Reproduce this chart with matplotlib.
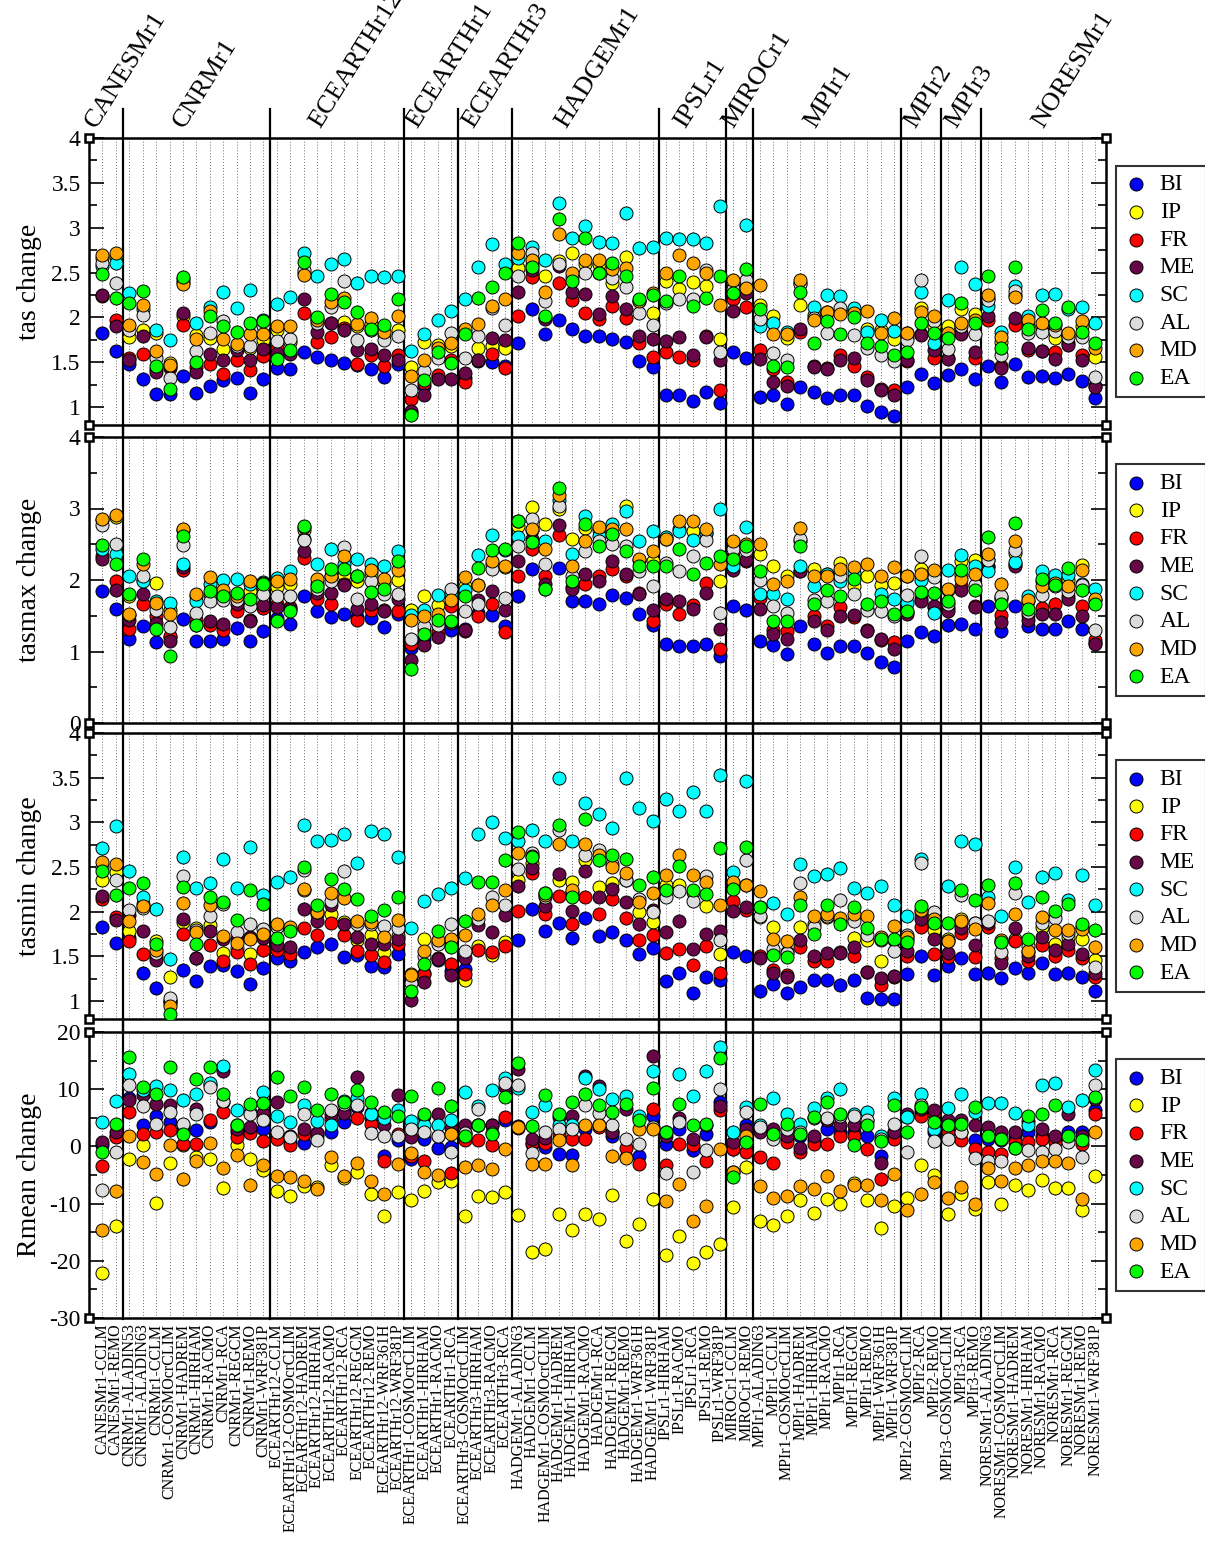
import numpy as np
import matplotlib.pyplot as plt
from matplotlib.ticker import MultipleLocator, FuncFormatter
from matplotlib.transforms import blended_transform_factory

plt.rcParams['font.family'] = ['Liberation Serif', 'DejaVu Serif']

models = [
    "CANESMr1-CCLM", "CANESMr1-REMO",
    "CNRMr1-ALADIN53", "CNRMr1-ALADIN63", "CNRMr1-CCLM", "CNRMr1-COSMOcrCLIM", "CNRMr1-HADREM",
    "CNRMr1-HIRHAM", "CNRMr1-RACMO", "CNRMr1-RCA", "CNRMr1-REGCM", "CNRMr1-REMO", "CNRMr1-WRF381P",
    "ECEARTHr12-CCLM", "ECEARTHr12-COSMOcrCLIM", "ECEARTHr12-HADREM", "ECEARTHr12-HIRHAM",
    "ECEARTHr12-RACMO", "ECEARTHr12-RCA", "ECEARTHr12-REGCM", "ECEARTHr12-REMO",
    "ECEARTHr12-WRF361H", "ECEARTHr12-WRF381P",
    "ECEARTHr1-COSMOcrCLIM", "ECEARTHr1-HIRHAM", "ECEARTHr1-RACMO", "ECEARTHr1-RCA",
    "ECEARTHr3-COSMOcrCLIM", "ECEARTHr3-HIRHAM", "ECEARTHr3-RACMO", "ECEARTHr3-RCA",
    "HADGEMr1-ALADIN63", "HADGEMr1-CCLM", "HADGEMr1-COSMOcrCLIM", "HADGEMr1-HADREM",
    "HADGEMr1-HIRHAM", "HADGEMr1-RACMO", "HADGEMr1-RCA", "HADGEMr1-REGCM", "HADGEMr1-REMO",
    "HADGEMr1-WRF361H", "HADGEMr1-WRF381P",
    "IPSLr1-HIRHAM", "IPSLr1-RACMO", "IPSLr1-RCA", "IPSLr1-REMO", "IPSLr1-WRF381P",
    "MIROCr1-CCLM", "MIROCr1-REMO",
    "MPIr1-ALADIN63", "MPIr1-CCLM", "MPIr1-COSMOcrCLIM", "MPIr1-HADREM", "MPIr1-HIRHAM",
    "MPIr1-RACMO", "MPIr1-RCA", "MPIr1-REGCM", "MPIr1-REMO", "MPIr1-WRF361H", "MPIr1-WRF381P",
    "MPIr2-COSMOcrCLIM", "MPIr2-RCA", "MPIr2-REMO",
    "MPIr3-COSMOcrCLIM", "MPIr3-RCA", "MPIr3-REMO",
    "NORESMr1-ALADIN63", "NORESMr1-COSMOcrCLIM", "NORESMr1-HADREM", "NORESMr1-HIRHAM",
    "NORESMr1-RACMO", "NORESMr1-RCA", "NORESMr1-REGCM", "NORESMr1-REMO", "NORESMr1-WRF381P",
]

gcm_names = ["CANESMr1", "CNRMr1", "ECEARTHr12", "ECEARTHr1", "ECEARTHr3", "HADGEMr1",
             "IPSLr1", "MIROCr1", "MPIr1", "MPIr2", "MPIr3", "NORESMr1"]
gcm_sizes = [2, 11, 10, 4, 4, 11, 5, 2, 11, 3, 3, 9]

regions = ["BI", "IP", "FR", "ME", "SC", "AL", "MD", "EA"]

# ---- tas change
tas_bi = [1.83,1.62,1.48,1.31,1.15,1.15,1.35,1.16,1.24,1.30, 1.32,1.16,1.31,1.43,1.42,1.61,1.56,1.53,1.49,1.47,
          1.42,1.34,1.48,0.93,1.23,1.33,1.51,1.32,1.51,1.50, 1.46,1.71,2.09,1.82,1.97,1.87,1.79,1.79,1.76,1.72,
          1.51,1.45,1.14,1.14,1.07,1.17,1.05,1.61,1.55,1.11, 1.14,1.03,1.22,1.17,1.10,1.13,1.14,1.01,0.94,0.90,
          1.22,1.37,1.27,1.36,1.42,1.31,1.46,1.28,1.48,1.34, 1.35,1.32,1.37,1.29,1.10]
tas_ip = [2.66,2.68,1.78,1.86,1.83,1.49,2.01,1.80,1.77,1.65, 1.66,1.66,1.75,1.86,1.72,2.49,1.98,1.94,1.95,1.90,
          1.93,1.80,1.86,1.45,1.72,1.69,1.68,1.84,1.66,1.68, 1.66,2.55,2.58,2.46,2.63,2.72,2.59,2.60,2.38,2.67,
          2.18,2.05,2.41,2.32,2.39,2.35,1.76,2.22,2.34,2.14, 2.01,1.77,2.14,2.03,2.06,2.08,2.07,1.87,1.86,1.76,
          1.83,2.10,1.90,1.90,2.09,2.04,2.22,1.73,2.25,1.90, 1.90,1.77,1.81,1.90,1.56]
tas_fr = [2.24,1.97,1.55,1.59,1.42,1.44,1.92,1.45,1.48,1.37, 1.53,1.41,1.57,1.66,1.60,2.05,1.72,1.78,1.88,1.48,
          1.58,1.46,1.58,1.09,1.27,1.36,1.53,1.28,1.53,1.59, 1.44,2.02,2.45,1.99,2.38,2.19,2.05,1.98,2.13,1.99,
          1.71,1.56,1.61,1.56,1.53,1.79,1.19,2.20,2.12,1.64, 1.42,1.28,1.84,1.46,1.43,1.58,1.46,1.33,1.20,1.19,
          1.51,1.82,1.55,1.55,1.83,1.55,1.97,1.46,1.91,1.64, 1.62,1.61,1.71,1.58,1.24]
tas_me = [2.25,1.90,1.53,1.79,1.39,1.46,2.05,1.39,1.59,1.53, 1.64,1.53,1.65,1.60,1.59,2.20,1.84,1.94,1.86,1.64,
          1.65,1.58,1.53,0.96,1.14,1.31,1.31,1.38,1.53,1.77, 1.75,2.28,2.53,1.98,2.57,2.28,2.26,2.04,2.24,2.09,
          1.79,1.76,1.74,1.78,1.58,1.78,1.52,2.07,2.27,1.54, 1.28,1.23,1.87,1.45,1.42,1.53,1.55,1.30,1.19,1.13,
          1.53,1.80,1.64,1.54,1.82,1.61,2.02,1.43,1.99,1.66, 1.63,1.54,1.69,1.53,1.22]
tas_sc = [2.57,2.61,2.27,2.09,1.86,1.75,2.43,1.94,2.12,2.28, 2.10,2.30,1.97,2.15,2.23,2.72,2.46,2.60,2.65,2.38,
          2.46,2.45,2.46,1.63,1.81,1.97,2.07,2.20,2.56,2.82, 2.60,2.66,2.79,2.64,3.28,2.89,3.02,2.84,2.83,3.16,
          2.77,2.79,2.88,2.87,2.87,2.83,3.24,2.38,3.03,1.90, 1.94,1.84,2.38,2.12,2.25,2.24,2.11,1.84,1.97,1.85,
          1.78,2.28,1.71,2.19,2.56,2.37,2.13,1.84,2.35,2.02, 2.25,2.26,2.09,2.12,1.94]
tas_al = [2.61,2.38,1.86,2.03,1.55,1.32,2.40,1.62,1.83,1.96, 1.68,1.68,1.90,1.74,1.76,2.53,1.94,2.12,2.41,1.75,
          1.86,1.75,1.79,1.19,1.40,1.55,1.83,1.55,1.79,2.10, 1.91,2.46,2.72,2.18,2.60,2.45,2.50,2.50,2.44,2.34,
          2.05,1.92,2.16,2.20,2.20,2.53,1.61,2.32,2.42,1.98, 1.60,1.53,2.37,1.99,1.83,2.10,1.80,1.66,1.58,1.51,
          1.75,2.42,1.96,1.65,1.90,1.82,2.19,1.58,2.29,1.83, 1.84,1.85,1.78,1.78,1.34]
tas_md = [2.69,2.72,1.92,2.14,1.62,1.47,2.37,1.76,2.07,1.76, 1.70,1.81,1.82,1.90,1.90,2.47,1.97,2.17,2.22,1.93,
          1.99,1.84,2.01,1.35,1.53,1.66,1.71,1.87,1.93,2.13, 2.21,2.72,2.64,2.28,2.93,2.49,2.64,2.64,2.54,2.55,
          2.18,2.27,2.49,2.70,2.61,2.50,2.14,2.42,2.33,2.36, 1.82,1.82,2.42,1.97,2.06,2.04,2.05,2.07,1.83,1.99,
          1.83,2.06,2.01,1.83,1.94,1.97,2.25,1.78,2.23,1.97, 1.94,1.92,1.83,1.96,1.66]
tas_ea = [2.48,2.22,2.16,2.29,1.46,1.20,2.45,1.50,2.01,1.90, 1.84,1.94,1.96,1.54,1.64,2.62,2.00,2.26,2.17,2.06,
          1.87,1.91,2.20,0.91,1.30,1.61,1.49,1.82,2.22,2.34, 2.49,2.83,2.56,2.02,3.10,2.41,2.88,2.49,2.61,2.46,
          2.20,2.25,2.18,2.46,2.13,2.22,2.46,2.27,2.54,2.09, 1.46,1.45,2.28,1.71,1.96,1.81,2.00,1.71,1.68,1.58,
          1.61,1.94,1.83,1.77,2.16,1.94,2.46,1.66,2.56,1.87, 2.08,1.94,2.12,1.84,1.71]

# ---- tasmax change
tasmax_bi = [1.84,1.60,1.17,1.35,1.13,1.20,1.46,1.14,1.14,1.18, 1.33,1.14,1.29,1.47,1.39,1.78,1.57,1.48,1.53,1.48,
             1.47,1.34,1.53,1.05,1.18,1.23,1.30,1.32,1.54,1.51, 1.35,1.78,2.15,1.87,2.17,1.70,1.71,1.67,1.79,1.75,
             1.53,1.37,1.11,1.07,1.08,1.10,0.94,1.64,1.58,1.14, 1.09,0.97,1.35,1.11,0.98,1.07,1.07,0.98,0.86,0.78,
             1.14,1.27,1.22,1.37,1.39,1.31,1.64,1.29,1.64,1.35, 1.31,1.31,1.43,1.31,1.12]
tasmax_ip = [2.84,2.88,1.77,2.00,1.96,1.58,2.70,1.77,1.80,1.82, 1.77,1.84,1.90,1.90,1.95,2.70,1.95,2.05,2.07,1.99,
             2.10,1.96,2.00,1.58,1.78,1.65,1.77,1.91,1.93,2.22, 2.18,2.76,3.02,2.78,3.00,2.58,2.73,2.70,2.64,3.03,
             2.28,2.26,2.58,2.72,2.69,2.66,1.99,2.52,2.45,2.37, 2.20,2.05,2.55,2.16,2.09,2.24,1.91,2.06,1.93,1.96,
             2.06,2.15,2.09,1.86,2.26,2.28,2.28,1.76,2.38,1.70, 1.98,1.97,2.00,2.21,1.72]
tasmax_fr = [2.34,1.98,1.31,1.66,1.49,1.21,2.14,1.44,1.37,1.30, 1.56,1.44,1.61,1.67,1.62,2.31,1.74,1.67,1.95,1.44,
             1.58,1.58,1.56,1.11,1.30,1.27,1.63,1.28,1.49,1.66, 1.27,2.06,2.44,2.05,2.63,1.90,1.94,2.05,2.15,2.05,
             1.82,1.43,1.67,1.53,1.65,1.96,1.04,2.33,2.26,1.75, 1.30,1.28,2.13,1.49,1.35,1.62,1.48,1.30,1.16,1.13,
             1.55,1.74,1.62,1.61,1.91,1.63,2.20,1.51,2.22,1.51, 1.61,1.67,1.77,1.64,1.16]
tasmax_me = [2.30,1.86,1.44,1.80,1.40,1.15,2.18,1.37,1.43,1.38, 1.67,1.42,1.65,1.62,1.60,2.40,1.82,1.82,1.93,1.59,
             1.66,1.56,1.74,0.88,1.09,1.20,1.40,1.30,1.72,1.85, 1.58,2.27,2.58,1.95,2.77,1.88,2.08,1.98,2.27,2.08,
             1.80,1.58,1.74,1.70,1.60,1.82,1.31,2.14,2.28,1.60, 1.25,1.18,2.12,1.43,1.30,1.50,1.51,1.28,1.17,1.04,
             1.52,1.71,1.63,1.56,1.86,1.62,2.18,1.41,2.19,1.44, 1.52,1.52,1.73,1.50,1.10]
tasmax_sc = [2.44,2.37,2.06,1.98,1.70,1.68,2.23,1.70,1.95,2.00, 2.02,1.95,1.97,2.03,2.13,2.58,2.23,2.43,2.23,2.30,
             2.22,2.19,2.40,1.51,1.58,1.79,1.82,1.86,2.35,2.63, 2.42,2.60,2.70,2.54,3.12,2.37,2.90,2.62,2.78,2.96,
             2.55,2.68,2.60,2.68,2.56,2.66,2.99,2.19,2.74,1.81, 1.80,1.74,2.20,1.92,2.09,1.99,2.10,1.60,1.80,1.74,
             1.68,2.00,1.54,2.14,2.35,2.19,2.12,1.74,2.25,1.78, 2.12,2.07,2.07,1.95,1.87]
tasmax_al = [2.77,2.51,1.51,2.05,1.58,1.34,2.49,1.54,1.70,1.72, 1.72,1.63,1.80,1.78,1.78,2.56,1.87,1.98,2.46,1.74,
             1.98,1.80,1.81,1.18,1.35,1.37,1.88,1.56,1.67,2.16, 1.75,2.47,2.86,2.22,3.03,2.05,2.40,2.55,2.51,2.47,
             2.12,1.91,2.24,2.12,2.34,2.56,1.54,2.44,2.42,2.00, 1.64,1.54,2.57,1.72,1.71,2.06,1.81,1.58,1.57,1.50,
             1.79,2.34,2.04,1.66,2.07,1.93,2.28,1.78,2.42,1.55, 1.79,1.91,1.84,1.93,1.30]
tasmax_md = [2.86,2.91,1.53,2.23,1.68,1.52,2.72,1.80,2.04,1.86, 1.77,1.98,1.96,1.98,2.02,2.74,2.02,2.05,2.34,2.05,
             2.14,2.02,2.14,1.44,1.50,1.53,1.72,2.04,1.93,2.27, 2.20,2.82,2.72,2.43,3.19,2.20,2.55,2.74,2.72,2.71,
             2.30,2.40,2.58,2.82,2.83,2.71,2.23,2.55,2.50,2.50, 1.94,1.99,2.73,2.05,2.05,2.16,2.18,2.22,2.06,2.18,
             2.05,2.09,2.14,1.88,2.02,2.09,2.37,1.94,2.55,1.72, 1.91,1.96,1.91,2.14,1.74]
tasmax_ea = [2.49,2.23,1.80,2.30,1.32,0.94,2.61,1.37,1.85,1.78, 1.82,1.74,1.94,1.42,1.56,2.76,1.91,2.15,2.15,2.05,
             1.83,1.87,2.27,0.76,1.25,1.44,1.42,1.78,2.17,2.42, 2.44,2.83,2.53,1.88,3.28,1.99,2.79,2.48,2.64,2.40,
             2.20,2.19,2.19,2.44,2.09,2.24,2.33,2.30,2.48,2.12, 1.43,1.43,2.48,1.66,1.86,1.78,2.01,1.67,1.70,1.53,
             1.56,1.83,1.82,1.71,2.14,1.86,2.60,1.67,2.80,1.60, 2.02,1.93,2.17,1.86,1.67]

# ---- tasmin change
tasmin_bi = [1.83,1.65,1.71,1.31,1.15,1.00,1.35,1.23,1.39,1.40, 1.34,1.19,1.37,1.48,1.45,1.55,1.61,1.64,1.49,1.52,
             1.39,1.38,1.53,1.24,1.32,1.46,1.34,1.36,1.58,1.54, 1.64,1.68,2.03,1.78,1.87,1.71,1.93,1.73,1.77,1.68,
             1.53,1.60,1.23,1.31,1.09,1.27,1.24,1.55,1.51,1.11, 1.19,1.09,1.16,1.24,1.24,1.18,1.24,1.03,1.02,1.02,
             1.30,1.51,1.29,1.39,1.48,1.30,1.32,1.26,1.37,1.31, 1.43,1.30,1.31,1.27,1.11]
tasmin_ip = [2.36,2.44,1.79,2.09,1.67,1.27,1.89,1.82,1.85,1.54, 1.60,1.53,1.72,1.84,1.82,2.24,1.97,1.98,1.88,1.68,
             1.74,1.55,1.73,1.30,1.70,1.66,1.68,1.24,1.62,1.52, 1.66,2.35,2.55,2.21,2.36,2.33,2.58,2.28,2.32,2.35,
             2.00,1.89,2.30,2.30,2.22,2.06,1.53,2.28,2.30,1.94, 1.83,1.55,1.83,1.86,1.94,1.90,1.71,1.68,1.45,1.68,
             1.70,2.00,1.80,1.69,1.92,1.87,1.88,1.66,1.70,1.55, 1.83,1.64,1.72,1.69,1.46]
tasmin_fr = [2.14,1.94,1.67,1.53,1.49,0.98,1.75,1.48,1.63,1.45, 1.55,1.41,1.57,1.57,1.53,1.82,1.74,1.87,1.74,1.56,
             1.52,1.44,1.64,1.28,1.30,1.48,1.42,1.30,1.57,1.55, 1.62,2.01,2.43,1.97,2.18,1.86,2.16,1.98,2.14,1.93,
             1.68,1.74,1.54,1.58,1.40,1.62,1.32,2.12,2.02,1.51, 1.35,1.29,1.61,1.45,1.45,1.55,1.50,1.33,1.18,1.27,
             1.50,1.83,1.53,1.49,1.76,1.49,1.83,1.48,1.67,1.45, 1.63,1.51,1.57,1.48,1.27]
tasmin_me = [2.18,1.91,1.96,1.79,1.46,1.00,1.92,1.48,1.79,1.70, 1.70,1.72,1.71,1.63,1.61,2.03,1.90,2.07,1.86,1.72,
             1.64,1.64,1.69,1.01,1.21,1.47,1.29,1.48,1.85,1.77, 1.96,2.29,2.49,2.06,2.42,2.01,2.46,2.16,2.26,2.11,
             1.86,2.02,1.77,1.90,1.58,1.75,1.79,2.01,2.05,1.48, 1.32,1.27,1.68,1.50,1.54,1.54,1.61,1.33,1.26,1.28,
             1.56,1.92,1.69,1.54,1.82,1.63,1.87,1.43,1.82,1.50, 1.72,1.57,1.64,1.53,1.32]
tasmin_sc = [2.71,2.96,2.46,2.17,2.03,1.47,2.61,2.27,2.32,2.59, 2.27,2.73,2.19,2.33,2.39,2.97,2.79,2.80,2.87,2.55,
             2.90,2.87,2.61,1.82,2.12,2.20,2.27,2.38,2.87,3.00, 2.82,2.79,2.92,2.79,3.50,2.79,3.22,3.09,2.94,3.50,
             3.16,3.01,3.26,3.13,3.34,3.13,3.53,2.44,3.46,2.05, 2.10,1.97,2.53,2.40,2.42,2.49,2.27,2.21,2.29,2.08,
             1.95,2.59,1.88,2.29,2.79,2.76,2.17,1.95,2.50,2.11, 2.39,2.43,2.13,2.41,2.07]
tasmin_al = [2.50,2.35,2.02,2.04,1.54,1.03,2.40,1.80,1.95,2.09, 1.77,1.86,1.81,1.83,1.81,2.47,2.00,2.12,2.46,1.86,
             1.86,1.84,1.82,1.20,1.50,1.64,1.86,1.56,1.92,2.17, 2.08,2.48,2.66,2.17,2.92,2.22,2.63,2.69,2.53,2.36,
             2.14,2.00,2.16,2.23,2.12,2.40,1.68,2.32,2.58,1.95, 1.58,1.54,2.32,1.83,1.95,2.13,1.90,1.74,1.68,1.56,
             1.74,2.55,2.00,1.67,2.19,1.87,1.90,1.55,2.21,1.62, 1.87,1.93,1.76,1.83,1.38]
tasmin_md = [2.56,2.53,1.90,2.06,1.57,0.94,2.10,1.77,2.08,1.73, 1.65,1.70,1.75,1.86,1.83,2.26,2.00,2.21,2.15,1.90,
             1.88,1.72,1.91,1.29,1.56,1.68,1.70,1.74,1.97,2.08, 2.24,2.66,2.62,2.19,2.76,2.24,2.76,2.63,2.50,2.43,
             2.11,2.21,2.41,2.64,2.41,2.33,2.08,2.33,2.30,2.23, 1.70,1.67,2.16,1.95,1.97,1.93,1.98,1.95,1.72,1.84,
             1.72,2.02,1.92,1.67,1.90,1.81,2.10,1.68,1.97,1.56, 1.94,1.80,1.80,1.81,1.61]
tasmin_ea = [2.46,2.19,2.27,2.32,1.64,0.86,2.28,1.64,2.16,2.11, 1.91,2.24,2.09,1.71,1.78,2.50,2.08,2.37,2.26,2.14,
             1.95,2.02,2.16,1.11,1.41,1.78,1.61,1.90,2.33,2.33, 2.58,2.89,2.61,2.21,2.97,2.16,3.04,2.58,2.63,2.59,
             2.30,2.39,2.24,2.51,2.24,2.20,2.71,2.26,2.73,2.05, 1.52,1.49,2.08,1.75,2.07,1.86,2.05,1.82,1.70,1.69,
             1.66,2.06,1.87,1.87,2.24,2.13,2.30,1.66,2.32,1.69, 2.16,2.01,2.09,1.86,1.80]

# ---- Rmean change (%)
rmean_bi = [0.3,1.9,8.5,3.7,5.4,4.3,2.5,2.8,4.3,7.8, 2.5,3.1,3.1,1.9,0.8,0.6,2.4,2.6,4.3,6.9,
            4.9,-1.6,1.1,-2.2,1.3,-0.3,-0.1,2.3,3.7,3.7, 4.6,3.6,0.4,-0.1,-1.3,-1.5,3.1,3.7,1.9,-1.9,
            -1.6,5.4,0.5,3.0,-0.7,2.1,7.8,-0.4,3.7,3.1, 2.5,1.3,1.9,1.1,3.1,2.5,2.5,1.9,-1.6,2.5,
            5.4,6.0,2.5,3.1,2.5,1.1,1.3,1.1,1.9,2.5, 1.9,1.3,2.5,2.5,6.3]
rmean_ip = [-22.2,-13.9,-2.2,0.3,-9.9,-2.9,0.2,-1.9,-2.2,-7.3, 0.2,-2.2,-4.1,-7.8,-8.6,-7.0,-7.1,-3.3,-5.6,-4.5,
            -8.4,-12.1,-8.0,-9.3,-7.8,-6.3,-6.0,-12.1,-8.7,-8.9, -8.0,-12.0,-18.5,-18.0,-11.8,-14.6,-11.8,-12.7,-8.5,-16.5,
            -13.6,-9.2,-19.0,-15.7,-20.4,-18.5,-17.1,-10.6,-3.6,-13.0, -13.7,-12.1,-9.3,-11.6,-9.2,-10.1,-6.4,-9.3,-14.2,-10.5,
            -9.0,-3.3,-5.0,-11.8,-8.3,-10.9,-6.3,-10.1,-6.8,-7.7, -5.8,-7.3,-7.3,-11.1,-5.1]
rmean_fr = [-3.5,1.6,6.1,2.2,2.5,2.9,0.5,0.5,4.6,6.0, 1.6,2.4,0.9,1.3,0.2,2.2,1.9,4.9,6.1,4.9,
            4.0,-2.6,2.2,-1.6,-2.6,1.9,-4.7,1.1,1.1,0.2, 5.1,3.2,0.6,0.6,2.2,1.3,1.3,3.4,2.5,-0.3,
            -3.0,6.6,-3.2,0.5,0.2,-2.5,6.3,-0.4,-1.0,-1.8, -2.9,0.8,-1.0,0.5,0.5,1.9,1.9,-0.4,-5.7,1.3,
            5.1,5.4,5.6,2.5,1.1,-0.4,-1.0,-1.3,0.8,0.8, 1.3,0.8,1.1,0.5,5.6]
rmean_me = [0.8,2.5,8.1,8.9,7.5,7.2,3.7,6.6,10.7,13.2, 3.1,3.4,5.9,7.8,1.9,3.1,2.4,5.7,5.9,12.2,
            5.9,3.7,8.9,1.6,5.4,5.6,3.2,3.8,3.7,3.7, 10.4,13.6,1.3,1.5,5.1,5.4,12.3,10.6,2.5,6.6,
            4.9,15.8,1.9,4.9,1.3,3.7,7.0,0.8,3.1,2.5, 3.1,1.9,-0.3,1.9,4.7,3.7,3.8,4.4,-2.9,2.6,
            5.7,6.5,6.3,4.6,4.6,3.7,3.4,2.5,2.5,4.4, 3.1,1.9,5.6,1.9,8.3]
rmean_sc = [4.2,7.9,12.7,9.8,10.5,9.8,8.1,9.2,11.0,14.1, 6.3,6.0,9.5,5.4,4.3,7.2,4.4,3.7,7.9,8.4,
            5.6,4.9,6.3,4.4,3.8,3.8,4.6,9.5,7.0,9.8, 11.9,10.2,6.0,7.2,3.7,3.7,12.0,10.1,8.2,8.8,
            5.4,13.2,2.6,12.6,8.8,13.2,17.4,2.6,6.9,3.7, 8.5,5.6,4.0,6.7,8.4,10.1,5.7,6.1,1.9,8.5,
            5.1,9.2,3.1,6.7,9.2,6.0,7.6,7.6,5.8,3.7, 10.7,11.0,6.9,8.1,13.3]
rmean_al = [-7.6,-1.0,10.8,7.0,3.9,6.0,4.0,5.6,10.4,7.9, 3.7,5.6,4.6,2.5,1.6,5.6,1.2,6.3,7.5,7.3,
            2.4,1.9,1.9,3.1,2.5,1.9,-1.0,2.3,6.6,2.4, 11.0,10.7,-1.2,2.6,3.1,3.1,7.2,5.9,3.7,1.3,
            0.5,3.4,-4.7,4.2,-4.5,-0.7,10.0,-4.5,6.0,3.4, 1.3,3.1,2.5,4.9,5.0,5.3,5.4,4.7,1.3,3.9,
            -1.0,7.2,1.0,1.3,2.5,-2.0,-2.5,-2.6,-0.3,-0.7, -0.9,-0.4,0.8,-1.9,10.8]
rmean_md = [-14.6,-7.8,1.8,-2.7,-4.9,0.2,-5.7,-2.5,0.6,-3.8, -1.5,-6.7,-3.2,-5.1,-5.3,-6.0,-7.4,-1.9,-5.1,-2.9,
            -6.0,-8.3,-3.0,-1.1,-4.5,-5.0,2.2,-3.6,-3.3,-4.0, -0.4,3.4,-3.0,-3.0,1.1,-3.3,3.8,3.7,-1.6,-2.0,
            3.1,3.1,-9.5,-6.5,-13.0,-10.5,-0.4,-4.5,1.8,-7.0, -9.0,-8.7,-7.0,-7.4,-5.1,-7.8,-6.7,-6.8,-9.3,-4.9,
            -11.2,-8.3,-6.3,-9.1,-7.1,-10.1,-3.8,-6.0,-3.7,-3.2, -2.5,-2.5,-2.9,-9.2,2.6]
rmean_ea = [-0.9,4.0,15.7,10.4,9.2,13.9,2.2,11.7,13.8,9.1, 3.8,7.5,7.6,12.2,8.8,10.4,6.3,9.2,7.8,9.8,
            7.8,6.1,5.4,8.8,5.7,10.2,7.0,1.9,3.8,2.1, 8.7,14.5,3.5,8.9,5.7,7.8,9.2,7.2,6.0,7.5,
            4.7,10.2,2.5,7.5,3.7,4.0,15.4,-5.4,0.8,7.5, 2.2,4.0,2.2,5.1,7.7,5.6,0.3,3.7,0.9,7.2,
            2.6,6.9,4.2,3.7,4.0,6.9,1.9,1.3,-0.3,5.4, 5.6,7.2,1.9,1.1,8.7]

colors = ["#0000ff", "#ffff00", "#ff0000", "#670748", "#00ffff", "#dcdcdc", "#ffa500", "#00ff00"]

panels = [
    ("tas change", [tas_bi, tas_ip, tas_fr, tas_me, tas_sc, tas_al, tas_md, tas_ea], (0.8, 4), 0.5, 0.25),
    ("tasmax change", [tasmax_bi, tasmax_ip, tasmax_fr, tasmax_me, tasmax_sc, tasmax_al, tasmax_md, tasmax_ea], (0, 4), 1, 0.5),
    ("tasmin change", [tasmin_bi, tasmin_ip, tasmin_fr, tasmin_me, tasmin_sc, tasmin_al, tasmin_md, tasmin_ea], (0.8, 4), 0.5, 0.25),
    ("Rmean change", [rmean_bi, rmean_ip, rmean_fr, rmean_me, rmean_sc, rmean_al, rmean_md, rmean_ea], (-30, 20), 10, 5),
]

W, H = 1205, 1541
fig = plt.figure(figsize=(W / 100, H / 100), dpi=100)

x = np.arange(len(models))
bounds = np.cumsum(gcm_sizes)[:-1] - 0.5
label_x = [-0.5, 6.1, 16.2, 23.5, 27.6, 34.6, 43.4, 47.0, 53.1, 60.6, 63.6, 70.1]
tops = [138, 437, 733, 1032]
bots = [425, 723, 1019, 1318]
left, right = 89, 1106

for k, (ylab, series, ylim, major, minor) in enumerate(panels):
    ax = fig.add_axes([left / W, 1 - bots[k] / H, (right - left) / W, (bots[k] - tops[k]) / H])
    ax.set_xlim(-1, 74.8)
    ax.set_ylim(*ylim)

    for xi in x:
        ax.axvline(xi, color="0.25", lw=0.6, ls=(0, (1, 2.5)), zorder=1)
    ytop = 1.1 if k == 0 else 1.04
    ybot = -0.005 if k == 3 else -0.04
    for b in bounds:
        ax.axvline(b, ymin=ybot, ymax=ytop, color="k", lw=1.6, clip_on=False, zorder=2)

    for name, vals, col in zip(regions, series, colors):
        ax.scatter(x, vals, s=88, c=col, edgecolors="k", linewidths=0.7, zorder=3, label=name)

    ax.yaxis.set_major_locator(MultipleLocator(major))
    ax.yaxis.set_minor_locator(MultipleLocator(minor))
    ax.yaxis.set_major_formatter(FuncFormatter(lambda v, p: f"{v:g}"))
    ax.tick_params(axis="y", which="both", direction="in", left=True, right=True,
                   labelsize=17, pad=6, width=1.2)
    ax.tick_params(axis="y", which="major", length=11)
    ax.tick_params(axis="y", which="minor", length=6)
    for s in ax.spines.values():
        s.set_linewidth(1.8)

    ax.set_ylabel(ylab, fontsize=20)
    ax.yaxis.set_label_coords(-0.046, 0.5)

    ax.set_xticks(x)
    if k == 3:
        ax.set_xticklabels(models, rotation=90, fontsize=11.5)
        ax.tick_params(axis="x", length=0, pad=4)
    else:
        ax.tick_params(axis="x", length=0, labelbottom=False)

    ax.plot([0, 1, 0, 1], [0, 0, 1, 1], "s", transform=ax.transAxes, ms=6,
            mfc="w", mec="k", mew=1.8, clip_on=False, zorder=6)

    leg = ax.legend(loc="center left", bbox_to_anchor=(1.0098, 0.5), frameon=True,
                    fancybox=False, edgecolor="k", fontsize=17, handlelength=1.0,
                    handletextpad=0.5, borderpad=0.35, labelspacing=0.26,
                    borderaxespad=0, scatterpoints=1)
    leg.get_frame().set_linewidth(1.5)

    if k == 0:
        tr = blended_transform_factory(ax.transData, ax.transAxes)
        for name, lx in zip(gcm_names, label_x):
            ax.text(lx, 1.03, name, transform=tr, rotation=58, rotation_mode="anchor",
                    ha="left", va="baseline", fontsize=19)

fig.savefig("out.png", dpi=100)
